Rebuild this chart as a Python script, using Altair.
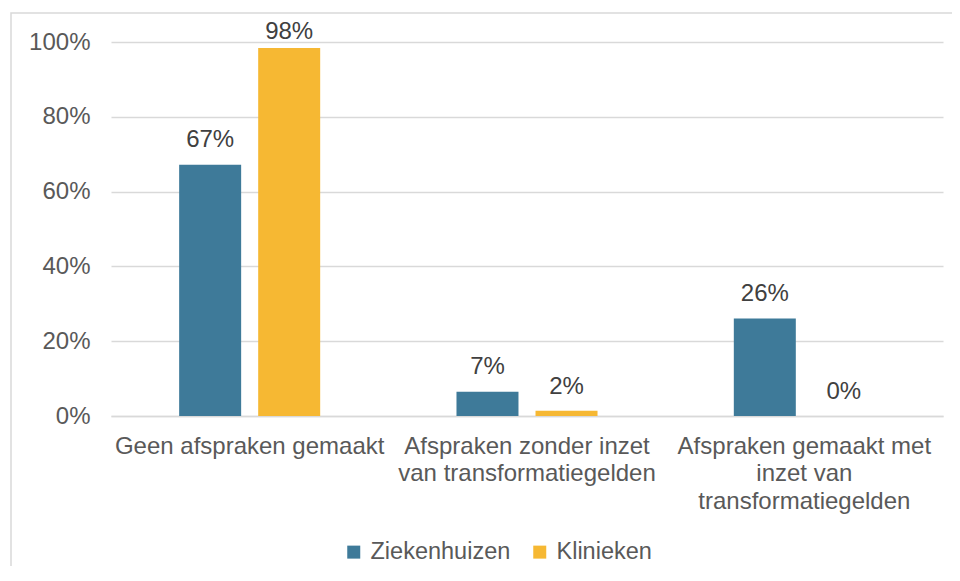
import altair as alt
import pandas as pd

categories = [
    "Geen afspraken gemaakt",
    "Afspraken zonder inzet\nvan transformatiegelden",
    "Afspraken gemaakt met\ninzet van\ntransformatiegelden",
]
series = ["Ziekenhuizen", "Klinieken"]
ziekenhuizen = [67.2, 6.5, 26.1]
klinieken = [98.4, 1.4, 0.0]
labels_zieken = ["67%", "7%", "26%"]
labels_klin = ["98%", "2%", "0%"]
y_ticks = [0, 20, 40, 60, 80, 100]
colors = ["#3E7A99", "#F6B833"]

rows = []
for i, c in enumerate(categories):
    rows.append({"cat": c, "serie": series[0], "v": ziekenhuizen[i], "lab": labels_zieken[i]})
    rows.append({"cat": c, "serie": series[1], "v": klinieken[i], "lab": labels_klin[i]})
df = pd.DataFrame(rows)

FONT = "Liberation Sans"
FS = 24

x_enc = alt.X(
    "cat:N",
    sort=categories,
    scale=alt.Scale(paddingInner=0, paddingOuter=0),
    axis=alt.Axis(
        title=None, labelAngle=0, labelFontSize=FS, labelColor="#595959",
        labelFont=FONT, domainColor="#d9d9d9", domainWidth=1.3, ticks=False,
        labelPadding=18, labelLimit=400, labelLineHeight=27.5,
        labelExpr="split(datum.label, '\\n')",
    ),
)
xoff = alt.XOffset("serie:N", sort=series,
                   scale=alt.Scale(paddingInner=0.215, paddingOuter=0.862))
y_scale = alt.Scale(domain=[0, 100], nice=False)

base = alt.Chart(df)

bars = base.mark_bar(size=62).encode(
    x=x_enc,
    xOffset=xoff,
    y=alt.Y("v:Q", scale=y_scale,
            axis=alt.Axis(title=None, values=y_ticks, labelExpr="datum.value + '%'",
                          labelFontSize=FS, labelColor="#595959", labelFont=FONT,
                          gridColor="#d9d9d9", gridWidth=1.3, domain=False, ticks=False,
                          labelPadding=21)),
    color=alt.Color("serie:N", sort=series,
                    scale=alt.Scale(domain=series, range=colors),
                    legend=alt.Legend(title=None, orient="none", direction="horizontal",
                                      legendX=231, legendY=498, symbolType="square",
                                      symbolSize=169, symbolStrokeWidth=0,
                                      labelFontSize=23.5, labelColor="#595959", labelFont=FONT,
                                      labelOffset=5, columnPadding=17)),
)

text = base.transform_calculate(
    ly="min(datum.v + 4.6, 100.7)"
).mark_text(fontSize=FS, color="#404040", font=FONT, baseline="alphabetic").encode(
    x=alt.X("cat:N", sort=categories),
    xOffset=xoff,
    y=alt.Y("ly:Q", scale=y_scale),
    text="lab:N",
)

border = alt.Chart(pd.DataFrame({"a": [0]})).mark_rect(
    fill=None, stroke="#d9d9d9", strokeWidth=1.5
).encode(
    x=alt.value(-100), x2=alt.value(870), y=alt.value(-29), y2=alt.value(560)
)

chart = alt.layer(border, bars, text).properties(
    width=832, height=374,
    autosize=alt.AutoSizeParams(type="none"),
    padding={"left": 103, "top": 34, "right": 9, "bottom": 150},
).configure_view(stroke=None)

chart.save("out.html", embed_options={"renderer": "svg", "actions": False})
